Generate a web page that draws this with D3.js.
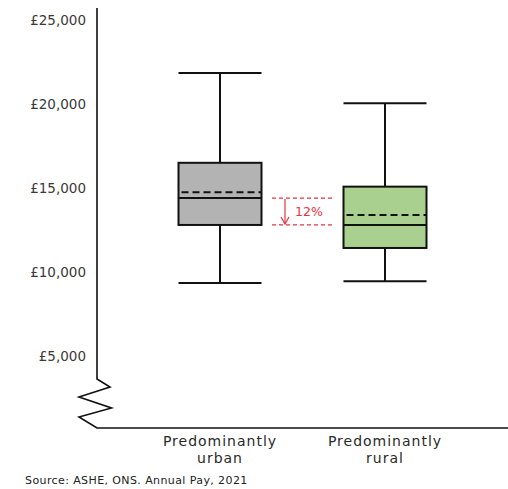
<!DOCTYPE html>
<html lang="en">
<head>
  <meta charset="UTF-8">
  <title>Annual pay: urban vs rural</title>
  <style>
    body { margin: 0; background: #fff; }
    svg { display: block; }
    text { font-family: "DejaVu Sans", sans-serif; }
  </style>
</head>
<body>
  <script src="https://d3js.org/d3.v7.min.js"></script>
  <script>
    // data
    const categories = ['Predominantly urban', 'Predominantly rural'];
    const catLines = [['Predominantly', 'urban'], ['Predominantly', 'rural']];
    const whiskerLow = [9350, 9450];
    const q1 = [12800, 11430];
    const median = [14400, 12800];
    const mean = [14750, 13400];
    const q3 = [16500, 15080];
    const whiskerHigh = [21850, 20050];
    const boxColors = ['#b3b3b3', '#a9d08e'];
    const yTicks = [5000, 10000, 15000, 20000, 25000];
    const gapLabel = '12%';

    const width = 508, height = 489;
    const axisX = 97, axisBottom = 428;

    const svg = d3.select('body').append('svg')
      .attr('width', width)
      .attr('height', height);

    const y = d3.scaleLinear().domain([5000, 25000]).range([356, 20]);
    const x = d3.scalePoint().domain(categories).range([220, 385]);
    const boxW = 83;

    // tick labels (no tick marks)
    svg.selectAll('.tick-label')
      .data(yTicks)
      .enter().append('text')
      .attr('class', 'tick-label')
      .attr('x', 86)
      .attr('y', d => y(d))
      .attr('dy', '0.35em')
      .attr('text-anchor', 'end')
      .attr('font-size', 13.5)
      .attr('fill', '#3a3a3a')
      .text(d => '£' + d3.format(',')(d));

    // y axis with break zigzag, then x axis
    const axisPath = d3.path();
    axisPath.moveTo(axisX, 8);
    axisPath.lineTo(axisX, 379);
    axisPath.lineTo(110, 387);
    axisPath.lineTo(79, 397);
    axisPath.lineTo(111.5, 408);
    axisPath.lineTo(79, 417);
    axisPath.lineTo(axisX, axisBottom);
    axisPath.lineTo(width, axisBottom);
    svg.append('path')
      .attr('d', axisPath.toString())
      .attr('fill', 'none')
      .attr('stroke', '#111')
      .attr('stroke-width', 1.6);

    const boxes = categories.map((c, i) => ({
      c, i,
      lo: whiskerLow[i], q1: q1[i], med: median[i], mean: mean[i], q3: q3[i], hi: whiskerHigh[i]
    }));

    const g = svg.selectAll('.box')
      .data(boxes)
      .enter().append('g')
      .attr('class', 'box')
      .attr('stroke', '#111')
      .attr('stroke-width', 2);

    // whisker stems
    g.append('line')
      .attr('x1', d => x(d.c)).attr('x2', d => x(d.c))
      .attr('y1', d => y(d.hi)).attr('y2', d => y(d.lo));

    // whisker caps
    g.selectAll('.cap')
      .data(d => [d.lo, d.hi].map(v => ({ c: d.c, v })))
      .enter().append('line')
      .attr('x1', d => x(d.c) - boxW / 2).attr('x2', d => x(d.c) + boxW / 2)
      .attr('y1', d => y(d.v)).attr('y2', d => y(d.v));

    // boxes
    g.append('rect')
      .attr('x', d => x(d.c) - boxW / 2)
      .attr('width', boxW)
      .attr('y', d => y(d.q3))
      .attr('height', d => y(d.q1) - y(d.q3))
      .attr('fill', d => boxColors[d.i]);

    // median
    g.append('line')
      .attr('x1', d => x(d.c) - boxW / 2).attr('x2', d => x(d.c) + boxW / 2)
      .attr('y1', d => y(d.med)).attr('y2', d => y(d.med));

    // mean (dashed)
    g.append('line')
      .attr('x1', d => x(d.c) - boxW / 2 + 3).attr('x2', d => x(d.c) + boxW / 2)
      .attr('y1', d => y(d.mean)).attr('y2', d => y(d.mean))
      .attr('stroke-dasharray', '7,4');

    // red gap annotation between the two medians
    const red = '#e8333f';
    const annX1 = 272, annX2 = 334, arrowX = 285;
    svg.selectAll('.gap-line')
      .data(median)
      .enter().append('line')
      .attr('class', 'gap-line')
      .attr('x1', annX1).attr('x2', annX2)
      .attr('y1', d => y(d)).attr('y2', d => y(d))
      .attr('stroke', red)
      .attr('stroke-width', 1.3)
      .attr('stroke-dasharray', '4,3');

    svg.append('line')
      .attr('x1', arrowX).attr('x2', arrowX)
      .attr('y1', y(median[0]) + 1).attr('y2', y(median[1]) - 1)
      .attr('stroke', red).attr('stroke-width', 1.2);
    svg.append('path')
      .attr('d', `M${arrowX - 4},${y(median[1]) - 8} L${arrowX},${y(median[1]) - 1} L${arrowX + 4},${y(median[1]) - 8}`)
      .attr('fill', 'none')
      .attr('stroke', red).attr('stroke-width', 1.2);

    svg.append('text')
      .attr('x', 295)
      .attr('y', (y(median[0]) + y(median[1])) / 2)
      .attr('dy', '0.35em')
      .attr('font-size', 12.5)
      .attr('fill', red)
      .text(gapLabel);

    // category labels
    svg.selectAll('.cat-label')
      .data(categories)
      .enter().append('text')
      .attr('class', 'cat-label')
      .attr('x', d => x(d))
      .attr('y', 446)
      .attr('text-anchor', 'middle')
      .attr('font-size', 14)
      .attr('letter-spacing', 1)
      .attr('fill', '#2a2a2a')
      .selectAll('tspan')
      .data((d, i) => catLines[i])
      .enter().append('tspan')
      .attr('x', function () { return d3.select(this.parentNode).attr('x'); })
      .attr('dy', (d, i) => i === 0 ? 0 : 16.5)
      .text(d => d);

    svg.append('text')
      .attr('x', 25)
      .attr('y', 484)
      .attr('font-size', 11)
      .attr('letter-spacing', 0.4)
      .attr('fill', '#222')
      .text('Source: ASHE, ONS. Annual Pay, 2021');
  </script>
</body>
</html>
